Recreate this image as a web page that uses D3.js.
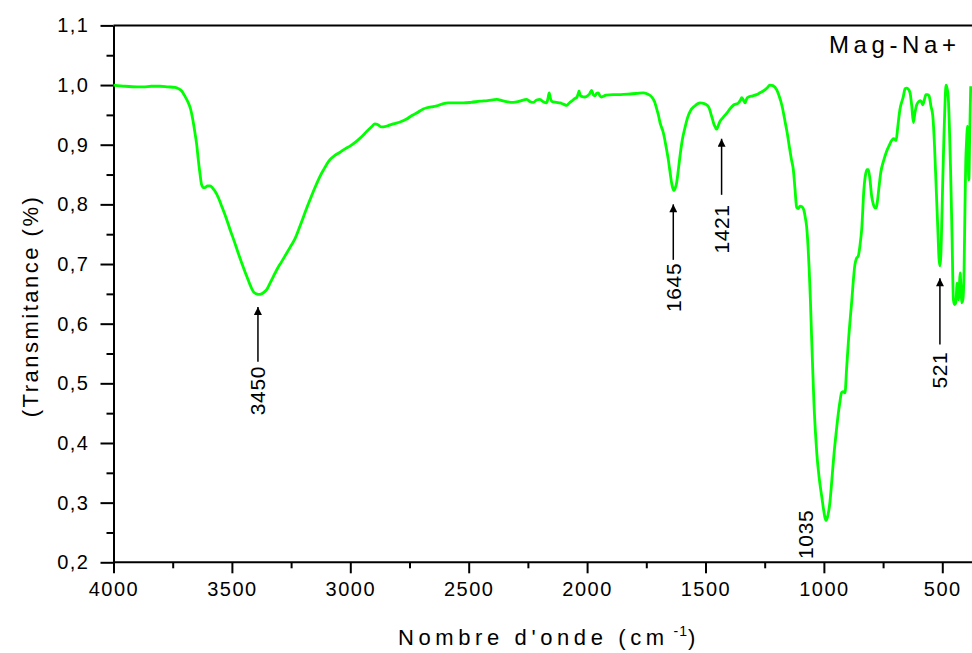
<!DOCTYPE html>
<html lang="fr">
<head>
<meta charset="UTF-8">
<title>Mag-Na+ IR</title>
<script src="https://d3js.org/d3.v7.min.js"></script>
<style>
  body { margin: 0; background: #fff; }
  svg { display: block; font-family: "Liberation Sans", Arial, sans-serif; }
  .tick text { font-size: 20px; letter-spacing: 1.5px; fill: #000; }
</style>
</head>
<body>
<svg id="chart" width="972" height="653"></svg>
<script>
// spectrum (wavenumber cm-1, transmittance)
const wavenumbers = [
  4000, 3950, 3900, 3874, 3840, 3804, 3770, 3740, 3726, 3712, 3698, 3686, 3674, 3665, 3656, 3648,
  3642, 3635, 3628, 3620, 3614, 3603, 3592, 3581, 3571, 3557, 3543, 3525, 3508, 3490, 3473, 3455,
  3437, 3420, 3410, 3398, 3388, 3375, 3367, 3353, 3340, 3325, 3311, 3290, 3269, 3250, 3234, 3216,
  3198, 3180, 3163, 3145, 3128, 3110, 3100, 3086, 3065, 3045, 3022, 3000, 2973, 2950, 2931, 2910,
  2896, 2885, 2870, 2861, 2840, 2818, 2790, 2762, 2740, 2720, 2692, 2677, 2650, 2635, 2607, 2586,
  2560, 2523, 2490, 2452, 2420, 2382, 2350, 2312, 2285, 2255, 2240, 2227, 2213, 2199, 2185, 2171,
  2165, 2160, 2155, 2150, 2130, 2114, 2100, 2086, 2075, 2065, 2050, 2044, 2038, 2034, 2029, 2023,
  2010, 2002, 1990, 1981, 1974, 1967, 1960, 1953, 1946, 1939, 1920, 1890, 1860, 1819, 1790, 1763,
  1745, 1727, 1715, 1706, 1699, 1692, 1678, 1668, 1657, 1650, 1643, 1638, 1633, 1628, 1622, 1615,
  1608, 1598, 1587, 1576, 1565, 1545, 1523, 1505, 1495, 1485, 1478, 1470, 1464, 1458, 1453, 1446,
  1439, 1425, 1410, 1395, 1383, 1361, 1352, 1347, 1340, 1333, 1328, 1323, 1300, 1284, 1270, 1256,
  1240, 1228, 1215, 1199, 1190, 1178, 1170, 1164, 1155, 1146, 1137, 1129, 1122, 1115, 1108, 1101,
  1093, 1085, 1079, 1073, 1067, 1062, 1057, 1052, 1047, 1042, 1036, 1030, 1020, 1009, 1000, 995,
  991, 986, 980, 975, 966, 957, 948, 939, 932, 925, 918, 911, 904, 897, 883, 869,
  862, 855, 848, 840, 831, 826, 818, 812, 805, 798, 791, 784, 779, 774, 767, 760,
  748, 735, 725, 714, 705, 695, 688, 679, 665, 657, 650, 643, 636, 629, 622, 615,
  608, 600, 593, 588, 583, 576, 569, 562, 556, 548, 540, 533, 526, 519, 514, 510,
  506, 502, 498, 493, 488, 484, 480, 475, 470, 465, 459, 453, 448, 443, 437, 434,
  431, 428, 425, 421, 418, 413, 408, 404, 401, 397, 394, 391, 388, 384, 380
];
const transmittance = [
  1.000, 0.998, 0.997, 0.997, 0.998, 0.998, 0.997, 0.996, 0.994, 0.990, 0.981, 0.972, 0.959, 0.942, 0.920, 0.898,
  0.875, 0.852, 0.833, 0.828, 0.828, 0.831, 0.831, 0.827, 0.822, 0.811, 0.797, 0.778, 0.758, 0.738, 0.718, 0.698,
  0.679, 0.662, 0.654, 0.650, 0.649, 0.650, 0.652, 0.657, 0.667, 0.679, 0.690, 0.704, 0.718, 0.731, 0.742, 0.760,
  0.779, 0.798, 0.815, 0.832, 0.847, 0.860, 0.867, 0.875, 0.882, 0.887, 0.893, 0.898, 0.906, 0.914, 0.922, 0.930,
  0.935, 0.934, 0.930, 0.930, 0.932, 0.935, 0.938, 0.943, 0.949, 0.953, 0.960, 0.962, 0.964, 0.965, 0.969, 0.970,
  0.970, 0.970, 0.971, 0.973, 0.974, 0.976, 0.973, 0.971, 0.973, 0.976, 0.972, 0.971, 0.975, 0.976, 0.972, 0.970,
  0.978, 0.987, 0.978, 0.973, 0.971, 0.970, 0.968, 0.966, 0.970, 0.973, 0.978, 0.979, 0.985, 0.990, 0.983, 0.981,
  0.980, 0.981, 0.985, 0.991, 0.984, 0.982, 0.986, 0.987, 0.982, 0.980, 0.983, 0.984, 0.984, 0.985, 0.986, 0.987,
  0.985, 0.980, 0.972, 0.960, 0.950, 0.937, 0.920, 0.900, 0.875, 0.855, 0.836, 0.827, 0.823, 0.827, 0.836, 0.857,
  0.880, 0.908, 0.928, 0.945, 0.956, 0.965, 0.970, 0.969, 0.967, 0.962, 0.953, 0.942, 0.934, 0.929, 0.926, 0.932,
  0.939, 0.946, 0.953, 0.961, 0.966, 0.970, 0.975, 0.979, 0.975, 0.970, 0.975, 0.979, 0.982, 0.984, 0.987, 0.990,
  0.995, 1.000, 0.999, 0.992, 0.983, 0.967, 0.952, 0.939, 0.920, 0.897, 0.875, 0.858, 0.826, 0.795, 0.793, 0.797,
  0.796, 0.791, 0.779, 0.763, 0.730, 0.690, 0.640, 0.579, 0.522, 0.467, 0.420, 0.383, 0.342, 0.310, 0.285, 0.274,
  0.270, 0.274, 0.285, 0.299, 0.340, 0.383, 0.418, 0.450, 0.470, 0.485, 0.486, 0.484, 0.525, 0.567, 0.635, 0.699,
  0.710, 0.713, 0.730, 0.760, 0.825, 0.845, 0.858, 0.858, 0.840, 0.813, 0.800, 0.794, 0.794, 0.805, 0.830, 0.853,
  0.873, 0.889, 0.898, 0.907, 0.910, 0.907, 0.930, 0.959, 0.980, 0.994, 0.995, 0.993, 0.987, 0.965, 0.937, 0.955,
  0.967, 0.972, 0.974, 0.972, 0.967, 0.975, 0.984, 0.984, 0.982, 0.965, 0.948, 0.900, 0.830, 0.760, 0.710, 0.697,
  0.715, 0.774, 0.840, 0.914, 0.975, 1.000, 0.995, 0.981, 0.930, 0.858, 0.750, 0.640, 0.632, 0.635, 0.668, 0.655,
  0.640, 0.660, 0.685, 0.660, 0.635, 0.640, 0.690, 0.800, 0.869, 0.910, 0.931, 0.890, 0.841, 0.920, 0.998
];

// band labels: text, wavenumber of the arrow, arrow tip / tail and top end of the number (transmittance units)
const bandLabels = ["3450", "1645", "1421", "1035", "521"];
const bandPos    = [3390, 1636, 1432, 1076, 510];
const bandTip    = [0.628, 0.800, 0.910, null, 0.676];
const bandTail   = [0.536, 0.707, 0.816, null, 0.565];
const bandText   = [0.529, 0.702, 0.800, 0.288, 0.553];

const xTicks = [4000, 3500, 3000, 2500, 2000, 1500, 1000, 500];
const xMinor = [3750, 3250, 2750, 2250, 1750, 1250, 750];
const yTicks = [0.2, 0.3, 0.4, 0.5, 0.6, 0.7, 0.8, 0.9, 1.0, 1.1];
const yMinor = [0.25, 0.35, 0.45, 0.55, 0.65, 0.75, 0.85, 0.95, 1.05];

const sampleName = "Mag-Na+";

const svg = d3.select("#chart");
const W = 972;

const x = d3.scaleLinear().domain([4000, 380]).range([113.5, 970.7]);
const y = d3.scaleLinear().domain([0.2, 1.1]).range([562.3, 25.4]);

const fmt = d => d3.format(".1f")(d).replace(".", ",");

// minor ticks first (no labels)
svg.append("g")
    .attr("transform", `translate(0,${y(0.2)})`)
    .call(d3.axisBottom(x).tickValues(xMinor).tickSize(6).tickFormat(""))
    .call(g => g.select(".domain").remove());
svg.append("g")
    .attr("transform", `translate(${x(4000)},0)`)
    .call(d3.axisLeft(y).tickValues(yMinor).tickSize(7).tickFormat(""))
    .call(g => g.select(".domain").remove());

// major axes
const xAxis = svg.append("g")
    .attr("transform", `translate(0,${y(0.2)})`)
    .call(d3.axisBottom(x).tickValues(xTicks).tickSize(11).tickSizeOuter(0).tickPadding(9).tickFormat(d3.format("d")));
xAxis.select(".domain").attr("d", `M${x(4000)},0H${W}`);

svg.append("g")
    .attr("transform", `translate(${x(4000)},0)`)
    .call(d3.axisLeft(y).tickValues(yTicks).tickSize(13).tickSizeOuter(0).tickPadding(11).tickFormat(fmt));

svg.selectAll(".domain, .tick line").attr("stroke", "#000").attr("stroke-width", 2);

// top frame
svg.append("line")
    .attr("x1", x(4000)).attr("x2", W)
    .attr("y1", y(1.1)).attr("y2", y(1.1))
    .attr("stroke", "#000").attr("stroke-width", 2);

// spectrum
const pts = wavenumbers.map((w, i) => [w, transmittance[i]]);
const line = d3.line().x(d => x(d[0])).y(d => y(d[1])).curve(d3.curveMonotoneX);

svg.append("path")
    .datum(pts)
    .attr("fill", "none")
    .attr("stroke", "#00ff00")
    .attr("stroke-width", 2.8)
    .attr("stroke-linejoin", "round")
    .attr("d", line);

// arrows + band numbers
svg.append("defs").append("marker")
    .attr("id", "head")
    .attr("viewBox", "0 0 10 10")
    .attr("refX", 10).attr("refY", 5)
    .attr("markerWidth", 10).attr("markerHeight", 8)
    .attr("markerUnits", "userSpaceOnUse")
    .attr("orient", "auto")
  .append("path")
    .attr("d", "M0,0L10,5L0,10Z")
    .attr("fill", "#000");

bandLabels.forEach((lab, i) => {
    const bx = x(bandPos[i]);
    if (bandTip[i] != null) {
        svg.append("line")
            .attr("x1", bx).attr("x2", bx)
            .attr("y1", y(bandTail[i])).attr("y2", y(bandTip[i]))
            .attr("stroke", "#000").attr("stroke-width", 1.5)
            .attr("marker-end", "url(#head)");
    }
    svg.append("text")
        .attr("transform", `translate(${bx},${y(bandText[i])}) rotate(-90)`)
        .attr("text-anchor", "end")
        .attr("dy", "0.35em")
        .style("font-size", "21px")
        .style("letter-spacing", "0.6px")
        .text(lab);
});

// sample name
svg.append("text")
    .attr("x", 829).attr("y", 53)
    .style("font-size", "24px")
    .style("letter-spacing", "4.6px")
    .text(sampleName);

// axis titles
const xt = svg.append("text")
    .attr("x", 549).attr("y", 645)
    .attr("text-anchor", "middle")
    .style("font-size", "22px")
    .style("letter-spacing", "4.6px");
xt.append("tspan").text("Nombre d'onde (cm");
xt.append("tspan").attr("dy", -9).style("font-size", "14px").style("letter-spacing", "1px").text(" -1");
xt.append("tspan").attr("dy", 9).text(")");

svg.append("text")
    .attr("transform", "translate(30,306) rotate(-90)")
    .attr("text-anchor", "middle")
    .attr("dy", "0.35em")
    .style("font-size", "22px")
    .style("letter-spacing", "2.5px")
    .text("(Transmitance (%)");
</script>
</body>
</html>
